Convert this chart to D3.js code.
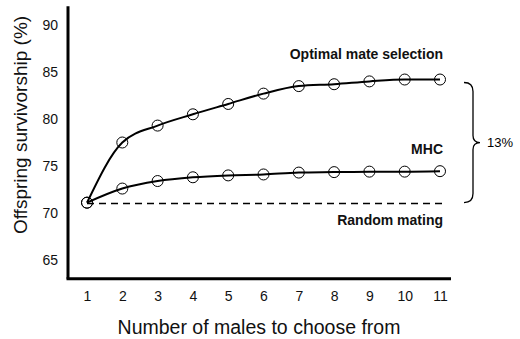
<!DOCTYPE html>
<html>
<head>
<meta charset="utf-8">
<script src="https://cdn.jsdelivr.net/npm/d3@7"></script>
<style>
  body { margin: 0; background: #fff; }
  svg { font-family: "Liberation Sans", Arial, sans-serif; }
</style>
</head>
<body>
<div id="chart"></div>
<script>
// Data
const males = [1, 2, 3, 4, 5, 6, 7, 8, 9, 10, 11];
const optimal = [71.1, 77.5, 79.3, 80.5, 81.6, 82.7, 83.5, 83.7, 84.0, 84.2, 84.2];
const mhc = [71.1, 72.6, 73.4, 73.8, 74.0, 74.1, 74.3, 74.35, 74.4, 74.4, 74.45];
const randomLevel = 71.0;
const yTicks = [65, 70, 75, 80, 85, 90];

const width = 520, height = 339;

const svg = d3.select("#chart").append("svg")
    .attr("width", width)
    .attr("height", height);

// Scales
const x = d3.scaleLinear().domain([1, 11]).range([87, 440]);
const y = d3.scaleLinear().domain([63, 92]).range([278.8, 6.2]);

// Axes (no tick marks, thick domain line)
const axisY = svg.append("g")
    .attr("transform", "translate(68,0)")
    .call(d3.axisLeft(y).tickValues(yTicks).tickSize(0).tickPadding(10));
axisY.select(".domain").attr("stroke-width", 3).attr("d", `M0,${y(92)}V${y(63)}`);
axisY.selectAll("text").attr("font-size", 14).attr("fill", "#111");

const axisX = svg.append("g")
    .attr("transform", `translate(0,${y(63)})`)
    .call(d3.axisBottom(x).tickValues(males).tickSize(0).tickPadding(12));
axisX.select(".domain").attr("stroke-width", 3).attr("d", `M66.5,0H451`);
axisX.selectAll("text").attr("font-size", 14).attr("fill", "#111");

// Axis titles
svg.append("text")
    .attr("x", 259).attr("y", 334)
    .attr("text-anchor", "middle")
    .attr("font-size", 19.5)
    .attr("fill", "#111")
    .text("Number of males to choose from");

svg.append("text")
    .attr("transform", "translate(27,125) rotate(-90)")
    .attr("text-anchor", "middle")
    .attr("font-size", 19)
    .attr("fill", "#111")
    .text("Offspring survivorship (%)");

// Random mating baseline
svg.append("line")
    .attr("x1", x(1)).attr("x2", 445)
    .attr("y1", y(randomLevel)).attr("y2", y(randomLevel))
    .attr("stroke", "#000")
    .attr("stroke-width", 1.5)
    .attr("stroke-dasharray", "7,5");

const line = d3.line()
    .x((d, i) => x(males[i]))
    .y(d => y(d))
    .curve(d3.curveMonotoneX);

[optimal, mhc].forEach(series => {
    svg.append("path")
        .datum(series)
        .attr("fill", "none")
        .attr("stroke", "#000")
        .attr("stroke-width", 2)
        .attr("d", line);

    svg.selectAll(null)
        .data(series)
        .enter().append("circle")
        .attr("cx", (d, i) => x(males[i]))
        .attr("cy", d => y(d))
        .attr("r", 5.5)
        .attr("fill", "none")
        .attr("stroke", "#000")
        .attr("stroke-width", 1);
});

// Series labels
const labels = [
    { text: "Optimal mate selection", y: 59 },
    { text: "MHC", y: 154 },
    { text: "Random mating", y: 225 }
];
svg.selectAll(".lbl")
    .data(labels)
    .enter().append("text")
    .attr("class", "lbl")
    .attr("x", 443)
    .attr("y", d => d.y)
    .attr("text-anchor", "end")
    .attr("font-size", 14)
    .attr("font-weight", "bold")
    .attr("fill", "#111")
    .text(d => d.text);

// Curly brace spanning random mating -> optimal
const bTop = y(optimal[10]) + 3, bBot = y(randomLevel) - 1, bMid = (bTop + bBot) / 2;
const bx = 464, sx = 473, tx = 480;
svg.append("path")
    .attr("fill", "none")
    .attr("stroke", "#000")
    .attr("stroke-width", 1.3)
    .attr("d", `M${bx},${bTop} Q${sx},${bTop} ${sx},${bTop + 9} L${sx},${bMid - 7} Q${sx},${bMid} ${tx},${bMid}
                Q${sx},${bMid} ${sx},${bMid + 7} L${sx},${bBot - 9} Q${sx},${bBot} ${bx},${bBot}`);

svg.append("text")
    .attr("x", 487).attr("y", bMid + 4.5)
    .attr("font-size", 13)
    .attr("fill", "#000")
    .text("13%");
</script>
</body>
</html>
